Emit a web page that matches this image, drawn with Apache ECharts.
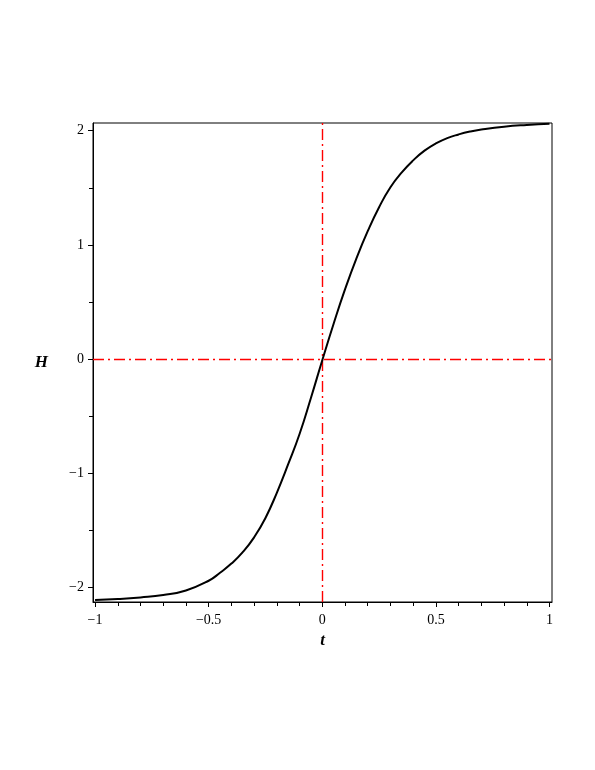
<!DOCTYPE html>
<html>
<head>
<meta charset="utf-8">
<script src="https://cdn.jsdelivr.net/npm/echarts@6/dist/echarts.min.js"></script>
<style>
  html, body { margin: 0; padding: 0; background: #fff; }
  #main { width: 595px; height: 770px; }
</style>
</head>
<body>
<div id="main"></div>
<script>
// curve samples
const T = [-1.0, -0.9, -0.8, -0.7, -0.6, -0.5, -0.45, -0.4, -0.35, -0.3, -0.25, -0.2, -0.15, -0.1, -0.05,
  0, 0.05, 0.1, 0.15, 0.2, 0.25, 0.3, 0.35, 0.4, 0.45, 0.5, 0.55, 0.6, 0.65, 0.7, 0.8, 0.9, 1.0]
const H = [-2.108, -2.100, -2.086, -2.065, -2.025, -1.94, -1.87, -1.79, -1.69, -1.56, -1.39, -1.17, -0.92, -0.655, -0.34,
  -0.01, 0.31, 0.61, 0.88, 1.12, 1.33, 1.505, 1.635, 1.74, 1.825, 1.888, 1.935, 1.967, 1.992, 2.01, 2.035, 2.05, 2.06]
const X_TICKS = [-1, -0.5, 0, 0.5, 1]
const X_MINOR = [-0.9, -0.8, -0.7, -0.6, -0.4, -0.3, -0.2, -0.1, 0.1, 0.2, 0.3, 0.4, 0.6, 0.7, 0.8, 0.9]
const Y_TICKS = [-2, -1, 0, 1, 2]
const Y_MINOR = [-1.5, -0.5, 0.5, 1.5]

const fmt = v => v < 0 ? '\u2212' + Math.abs(v) : String(v)
const serif = '"Liberation Serif", "DejaVu Serif", serif'
const redDash = { color: '#ff0000', width: 1.4, type: [11, 4, 2, 4] }

var myChart = echarts.init(document.getElementById('main'), null, { renderer: 'canvas' })

const xRange = { min: -1.009, max: 1.011 }
const yRange = { min: -2.126, max: 2.067 }

let option = {
  backgroundColor: '#fff',
  animation: false,
  grid: {
    left: 93, right: 43, top: 123, bottom: 168,
    show: true, borderColor: '#000', borderWidth: 1, backgroundColor: 'transparent'
  },
  xAxis: [
    {
      type: 'value', ...xRange,
      name: 't', nameLocation: 'middle', nameGap: 29,
      nameTextStyle: { fontFamily: serif, fontSize: 17, fontStyle: 'italic', fontWeight: 'bold', color: '#000' },
      axisLine: { show: true, onZero: false, lineStyle: { color: '#000', width: 1 } },
      axisTick: { show: true, inside: false, length: 5, customValues: X_TICKS, lineStyle: { color: '#000' } },
      axisLabel: { customValues: X_TICKS, formatter: fmt, margin: 11, fontFamily: serif, fontSize: 14, color: '#000' },
      splitLine: { show: false }
    },
    {
      type: 'value', ...xRange, gridIndex: 0, position: 'bottom',
      axisLine: { show: false, onZero: false },
      axisTick: { show: true, inside: false, length: 4, customValues: X_MINOR, lineStyle: { color: '#000' } },
      axisLabel: { show: false },
      splitLine: { show: false }
    }
  ],
  yAxis: [
    {
      type: 'value', ...yRange,
      name: 'H', nameLocation: 'middle', nameGap: 45, nameRotate: 0,
      nameTextStyle: { fontFamily: serif, fontSize: 17, fontStyle: 'italic', fontWeight: 'bold', color: '#000' },
      axisLine: { show: true, onZero: false, lineStyle: { color: '#000', width: 1 } },
      axisTick: { show: true, inside: false, length: 5, customValues: Y_TICKS, lineStyle: { color: '#000' } },
      axisLabel: { customValues: Y_TICKS, formatter: fmt, margin: 9, fontFamily: serif, fontSize: 14, color: '#000' },
      splitLine: { show: false }
    },
    {
      type: 'value', ...yRange, gridIndex: 0, position: 'left',
      axisLine: { show: false, onZero: false },
      axisTick: { show: true, inside: false, length: 4, customValues: Y_MINOR, lineStyle: { color: '#000' } },
      axisLabel: { show: false },
      splitLine: { show: false }
    }
  ],
  series: [
    {
      type: 'line',
      xAxisIndex: 0, yAxisIndex: 0,
      data: T.map((t, i) => [t, H[i]]),
      smooth: 0.5,
      showSymbol: false,
      itemStyle: { color: '#000' },
      lineStyle: { color: '#000', width: 2 },
      markLine: {
        silent: true,
        symbol: 'none',
        label: { show: false },
        lineStyle: redDash,
        data: [{ yAxis: 0 }, { xAxis: 0 }],
        z: 1
      },
      z: 3
    }
  ]
}
option && myChart.setOption(option)
</script>
</body>
</html>
